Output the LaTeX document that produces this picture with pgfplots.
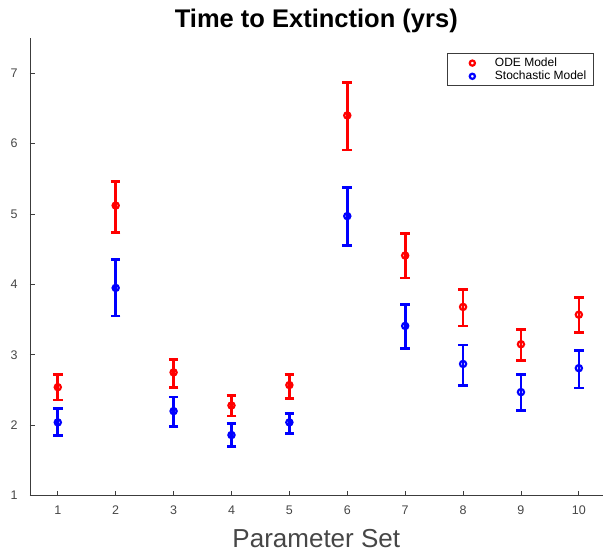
\documentclass[border=0pt]{standalone}
\usepackage{pgfplots}
\pgfplotsset{compat=1.18}
\usepackage{pgfplotstable}
\usepackage{fontspec}
\setmainfont{Liberation Sans}
\definecolor{axgray}{RGB}{60,60,60}
\definecolor{lblgray}{RGB}{70,70,70}
\pgfplotstableread{
x y ep em
1 2.54 0.18 0.18
2 5.12 0.34 0.38
3 2.75 0.18 0.21
4 2.28 0.14 0.15
5 2.57 0.15 0.19
6 6.40 0.47 0.49
7 4.41 0.31 0.32
8 3.68 0.25 0.27
9 3.15 0.21 0.23
10 3.57 0.24 0.25
}\odedata
\pgfplotstableread{
x y ep em
1 2.04 0.20 0.19
2 3.95 0.40 0.40
3 2.20 0.20 0.22
4 1.86 0.16 0.16
5 2.04 0.13 0.16
6 4.97 0.41 0.42
7 3.41 0.30 0.32
8 2.87 0.27 0.31
9 2.47 0.25 0.26
10 2.81 0.25 0.28
}\stodata
\begin{document}
\begin{tikzpicture}
\begin{axis}[
  scale only axis,
  width=572.6pt, height=457.6pt,
  xmin=0.52, xmax=10.41,
  ymin=1, ymax=7.5,
  axis x line*=bottom, axis y line*=left,
  axis line style={axgray, line width=0.9pt},
  tick style={axgray, line width=0.9pt},
  tick align=inside,
  major tick length=5pt,
  xtick={1,...,10}, ytick={1,...,7},
  /pgf/number format/assume math mode=true,
  ticklabel style={font=\fontsize{12.5}{15}\selectfont, text=lblgray},
  xticklabel style={yshift=-7pt},
  yticklabel style={xshift=-9pt},
  title={Time to Extinction (yrs)},
  title style={font=\fontsize{25.5}{30}\selectfont\bfseries, yshift=-4pt},
  xlabel={Parameter Set},
  xlabel style={font=\fontsize{26}{30}\selectfont, text=lblgray, yshift=-7pt},
  legend style={at={(0.728,0.967)}, anchor=north west,
    font=\fontsize{12}{14}\selectfont, draw=axgray, line width=0.8pt,
    inner xsep=5pt, inner ysep=2.5pt, row sep=-1pt,
    /tikz/every odd column/.append style={column sep=18pt}},
  legend cell align=left,
  legend image code/.code={\path (-19pt,0pt) (0pt,0pt); \draw[#1, mark size=2.6pt] plot coordinates {(0pt,0pt)};},
]
\addplot[red, only marks, mark=o, mark size=3.1pt, line width=2.2pt,
  error bars/.cd, y dir=both, y explicit,
  error bar style={line width=2.7pt, red},
  error mark options={rotate=90, mark size=4.8pt, line width=2.7pt, red}]
  table[x=x, y=y, y error plus=ep, y error minus=em]{\odedata};
\addlegendentry{ODE Model}
\addplot[blue, only marks, mark=o, mark size=3.1pt, line width=2.2pt,
  error bars/.cd, y dir=both, y explicit,
  error bar style={line width=2.7pt, blue},
  error mark options={rotate=90, mark size=4.8pt, line width=2.7pt, blue}]
  table[x=x, y=y, y error plus=ep, y error minus=em]{\stodata};
\addlegendentry{Stochastic Model}
\end{axis}
\pgfresetboundingbox
\path (-30pt,-58pt) rectangle (573pt,495.6pt);
\end{tikzpicture}
\end{document}
